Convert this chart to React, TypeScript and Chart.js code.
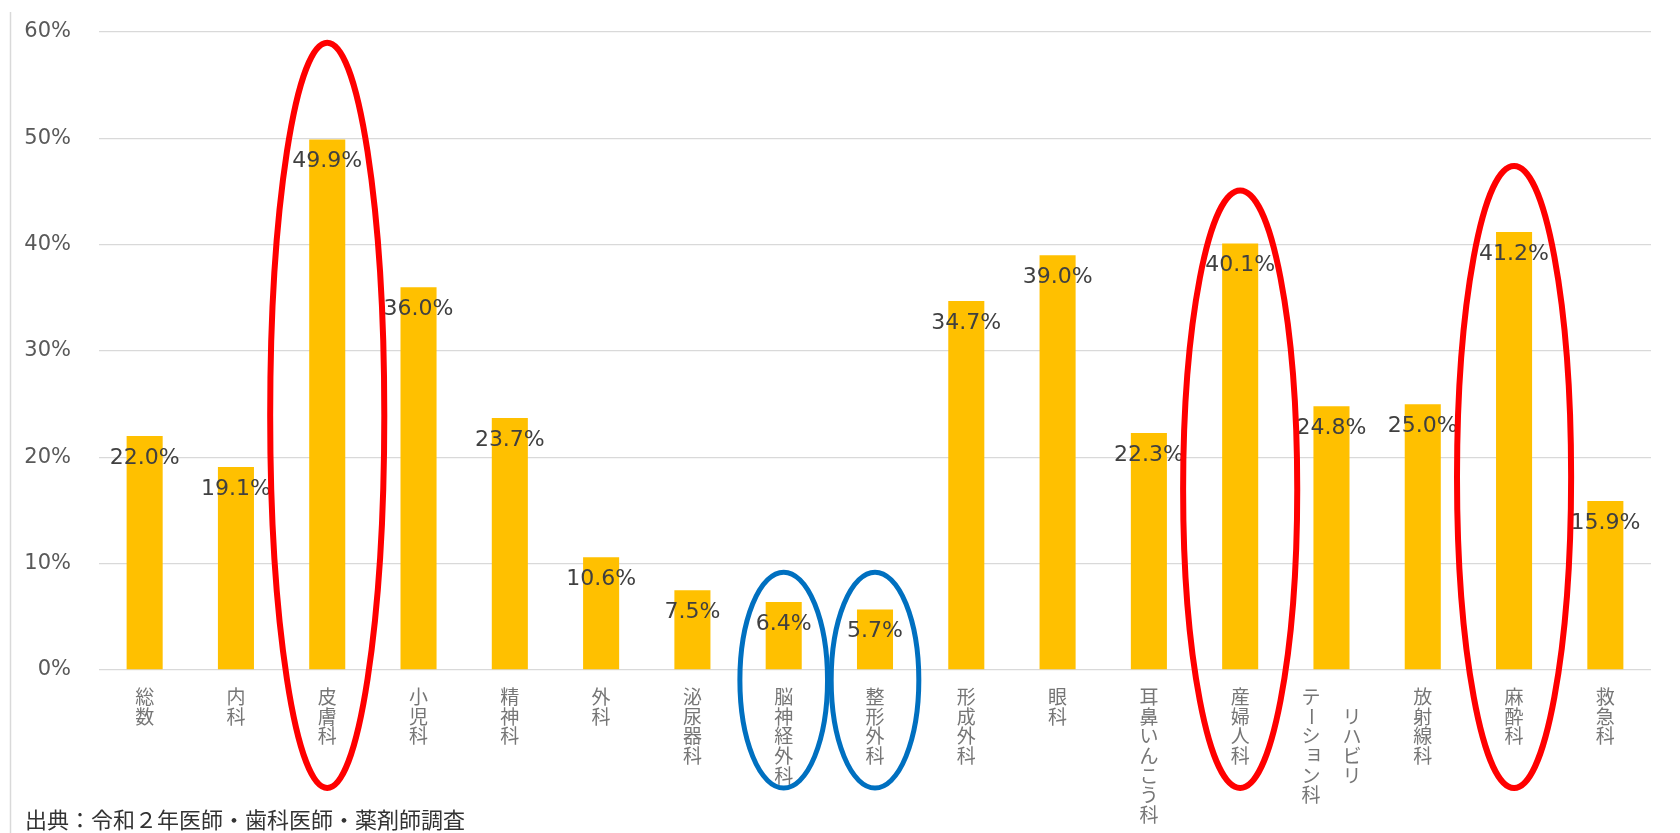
import React, { useEffect, useRef } from "react";
import { Chart, registerables } from "chart.js";

Chart.register(...registerables);

// ---- data ----
const categories = [
  "総数",
  "内科",
  "皮膚科",
  "小児科",
  "精神科",
  "外科",
  "泌尿器科",
  "脳神経外科",
  "整形外科",
  "形成外科",
  "眼科",
  "耳鼻いんこう科",
  "産婦人科",
  "リハビリ\nテーション科",
  "放射線科",
  "麻酔科",
  "救急科",
];

const values = [22.0, 19.1, 49.9, 36.0, 23.7, 10.6, 7.5, 6.4, 5.7, 34.7, 39.0, 22.3, 40.1, 24.8, 25.0, 41.2, 15.9];

const yMax = 60;
const yStep = 10;

const sourceText = "出典：令和２年医師・歯科医師・薬剤師調査";

// highlighted categories (annotation rings): category index, top value of ring
const redRings = [
  { index: 2, top: 59.0 },
  { index: 12, top: 45.1 },
  { index: 15, top: 47.4 },
];
const blueRings = [
  { index: 7, top: 9.2 },
  { index: 8, top: 9.2 },
];

const SMALL_KANA = "ぁぃぅぇぉっゃゅょァィゥェォッャュョ";

const overlayPlugin = {
  id: "overlay",
  beforeDraw(chart: any) {
    const { ctx } = chart;
    ctx.save();
    ctx.strokeStyle = "#d9d9d9";
    ctx.lineWidth = 1.5;
    ctx.beginPath();
    ctx.moveTo(10.5, 12);
    ctx.lineTo(10.5, chart.height);
    ctx.stroke();
    ctx.restore();
  },
  afterDatasetsDraw(chart: any) {
    const { ctx } = chart;
    const meta = chart.getDatasetMeta(0);
    ctx.save();
    ctx.font = '22px "DejaVu Sans"';
    ctx.fillStyle = "#404040";
    ctx.textAlign = "center";
    ctx.textBaseline = "middle";
    meta.data.forEach((bar: any, i: number) => {
      ctx.fillText(values[i].toFixed(1) + "%", bar.x, bar.y + 22);
    });
    ctx.restore();
  },
  afterDraw(chart: any) {
    const { ctx } = chart;
    const xs = chart.scales.x;
    const ys = chart.scales.y;
    const catW = xs.getPixelForValue(1) - xs.getPixelForValue(0);

    // vertical category labels
    ctx.save();
    ctx.font = '19px "Noto Sans CJK JP"';
    ctx.fillStyle = "#767676";
    ctx.textAlign = "center";
    ctx.textBaseline = "middle";
    const pitch = 19.6;
    const labelTop = ys.bottom + 27;
    categories.forEach((label, i) => {
      const cx = xs.getPixelForValue(i);
      const cols = label.split("\n");
      const n = cols.length;
      const maxLen = Math.max(...cols.map((c) => Array.from(c).length));
      cols.forEach((col, j) => {
        const chars = Array.from(col);
        const x = cx + ((n - 1) / 2 - j) * 41;
        const start = labelTop + (n > 1 ? ((maxLen - chars.length) * pitch) / 2 : 0);
        chars.forEach((ch, k) => {
          const y = start + k * pitch;
          if (ch === "ー") {
            ctx.save();
            ctx.translate(x, y);
            ctx.rotate(Math.PI / 2);
            ctx.fillText(ch, 0, 0);
            ctx.restore();
          } else if (SMALL_KANA.includes(ch)) {
            ctx.fillText(ch, x + 3, y - 3);
          } else {
            ctx.fillText(ch, x, y);
          }
        });
      });
    });
    ctx.restore();

    // source note
    ctx.save();
    ctx.font = '22px "Noto Sans CJK JP"';
    ctx.fillStyle = "#333333";
    ctx.textAlign = "left";
    ctx.textBaseline = "middle";
    ctx.fillText(sourceText, 25, 820);
    ctx.restore();

    // rings
    const ringBottom = ys.bottom + 118;
    const drawRing = (index: number, top: number, color: string, half: number, lw: number) => {
      const cx = xs.getPixelForValue(index);
      const ty = ys.getPixelForValue(top);
      const cy = (ty + ringBottom) / 2;
      const ry = (ringBottom - ty) / 2;
      ctx.save();
      ctx.strokeStyle = color;
      ctx.lineWidth = lw;
      ctx.beginPath();
      ctx.ellipse(cx, cy, half * catW, ry, 0, 0, Math.PI * 2);
      ctx.stroke();
      ctx.restore();
    };
    redRings.forEach((r) => drawRing(r.index, r.top, "#ff0000", 0.625, 6));
    blueRings.forEach((r) => drawRing(r.index, r.top, "#0070c0", 0.48, 5));
  },
};

export default function App() {
  const ref = useRef<HTMLCanvasElement | null>(null);

  useEffect(() => {
    if (!ref.current) return;
    const chart = new Chart(ref.current, {
      type: "bar",
      data: {
        labels: categories,
        datasets: [
          {
            data: values,
            backgroundColor: "#ffc000",
            borderWidth: 0,
            barPercentage: 0.395,
            categoryPercentage: 1,
          },
        ],
      },
      options: {
        animation: false,
        responsive: true,
        maintainAspectRatio: false,
        layout: { padding: { top: 32, right: 29, left: 0, bottom: 0 } },
        plugins: {
          legend: { display: false },
          tooltip: { enabled: false },
          title: { display: false },
        },
        scales: {
          x: {
            grid: { display: false },
            border: { display: false },
            ticks: { display: false },
            afterFit: (scale: any) => {
              scale.height = 163;
            },
          },
          y: {
            min: 0,
            max: yMax,
            ticks: {
              stepSize: yStep,
              padding: 28,
              color: "#595959",
              font: { family: "DejaVu Sans", size: 21 },
              callback: (v: any) => v + "%",
            },
            grid: { color: "#d9d9d9", lineWidth: 1.3, drawTicks: false },
            border: { display: false },
            afterFit: (scale: any) => {
              scale.width = 99;
              scale.paddingTop = 0;
              scale.paddingBottom = 0;
            },
          },
        },
      },
      plugins: [overlayPlugin],
    });
    return () => chart.destroy();
  }, []);

  return (
    <div style={{ position: "fixed", left: 0, top: 0, width: 1680, height: 833, background: "#ffffff" }}>
      <canvas ref={ref} />
    </div>
  );
}
